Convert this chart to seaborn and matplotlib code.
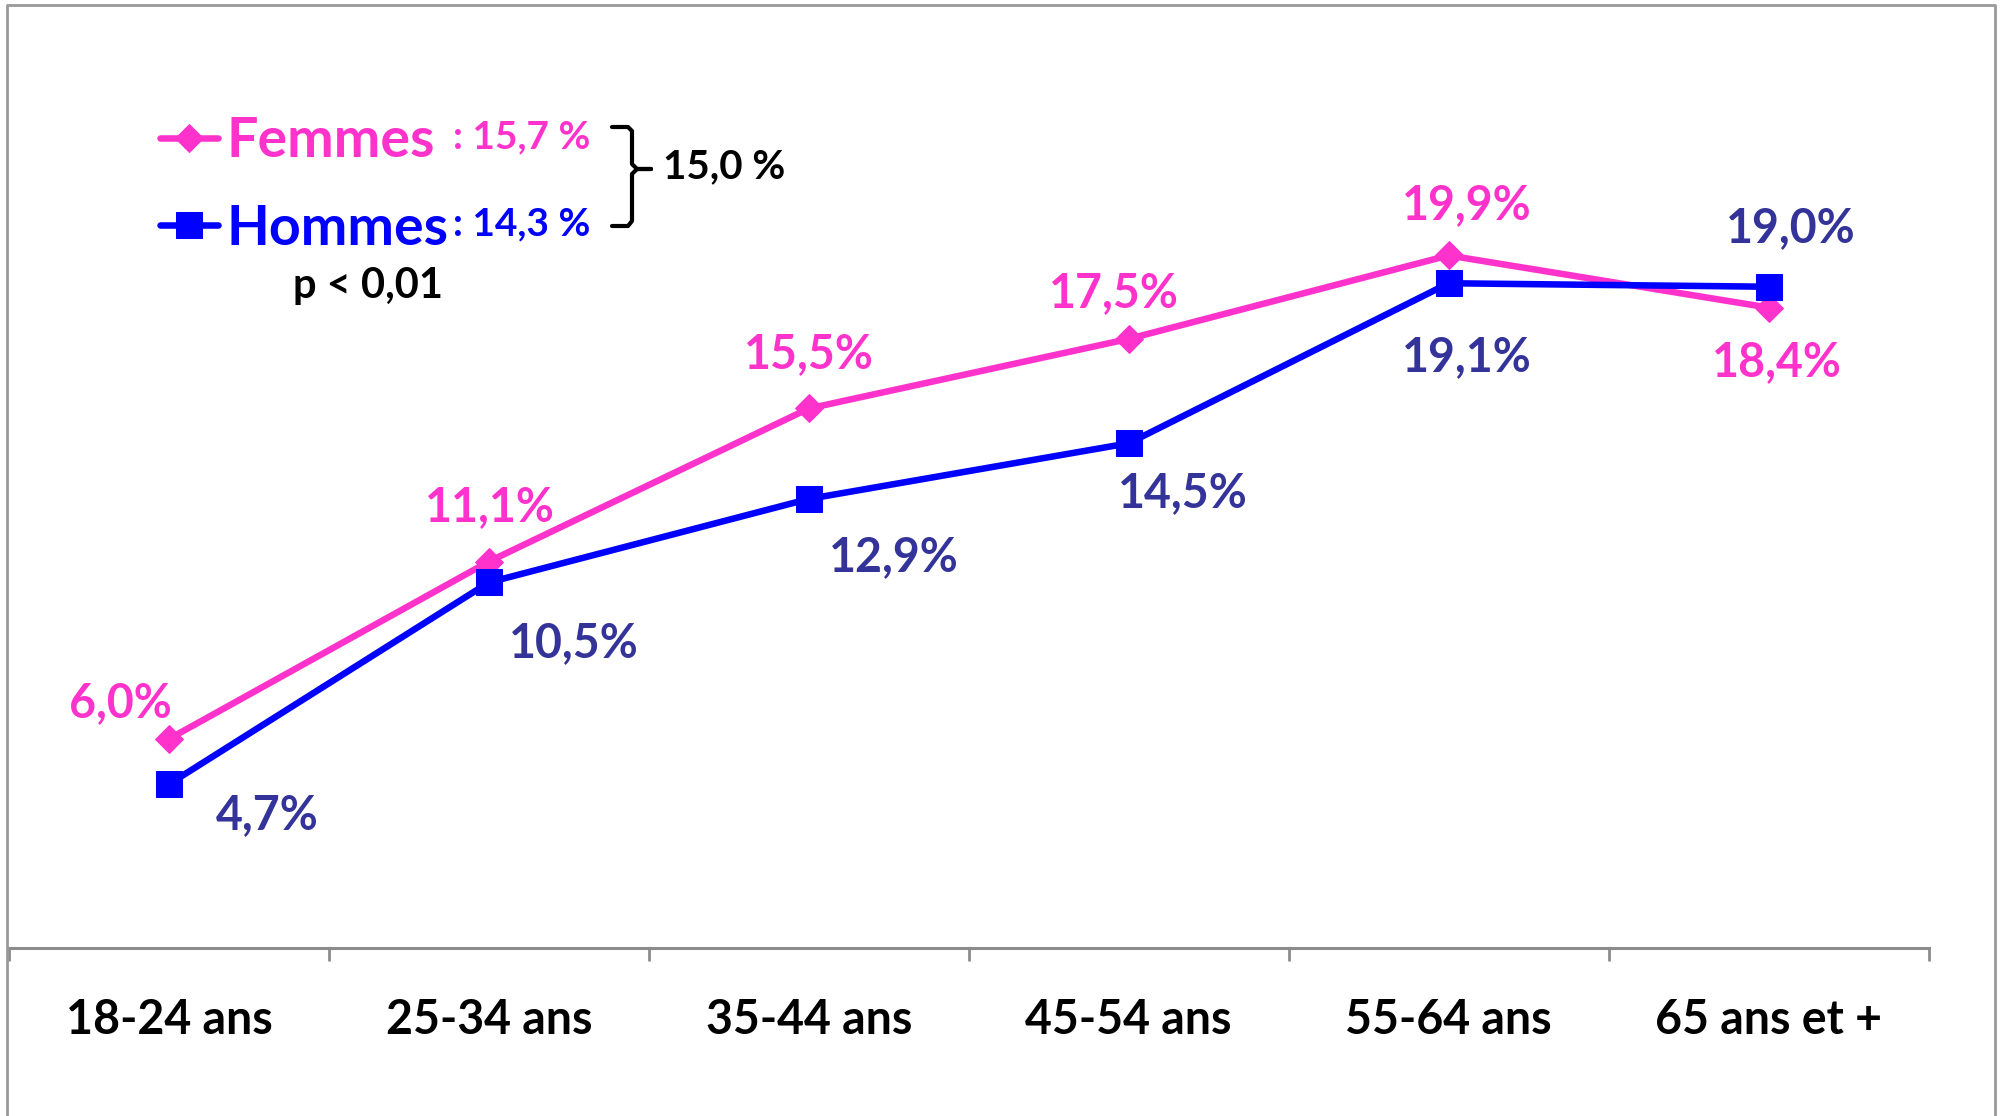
import pandas as pd
import matplotlib.pyplot as plt
import seaborn as sns
from matplotlib.lines import Line2D

# Données
age_groups = ['18-24 ans', '25-34 ans', '35-44 ans', '45-54 ans', '55-64 ans', '65 ans et +']
femmes = [6.0, 11.1, 15.5, 17.5, 19.9, 18.4]
hommes = [4.7, 10.5, 12.9, 14.5, 19.1, 19.0]
femmes_labels = ['6,0%', '11,1%', '15,5%', '17,5%', '19,9%', '18,4%']
hommes_labels = ['4,7%', '10,5%', '12,9%', '14,5%', '19,1%', '19,0%']

ROSE = '#FF33CC'
BLEU = '#0000FF'
BLEU_LABEL = '#333399'

sns.set_style('white')
plt.rcParams['font.family'] = ['Lato', 'DejaVu Sans']
plt.rcParams['font.weight'] = 'bold'

W, H = 2000, 1116
fig = plt.figure(figsize=(W / 100, H / 100), dpi=100)
ax = fig.add_axes([0.00446, 0.1508, 0.9598, 0.7793])

x = list(range(len(age_groups)))
df = pd.DataFrame({'x': x, 'Femmes': femmes, 'Hommes': hommes})

sns.lineplot(data=df, x='x', y='Femmes', ax=ax, color=ROSE, lw=4.7,
             marker='D', markersize=14, markeredgecolor=ROSE, label='Femmes')
sns.lineplot(data=df, x='x', y='Hommes', ax=ax, color=BLEU, lw=4.7,
             marker='s', markersize=19, markeredgecolor=BLEU, label='Hommes')

# étiquettes des valeurs
f_off = [(-35, 26), (1, 39), (0, 39), (-11, 33), (13, 36), (6, -39)]
h_off = [(71, -22), (61, -44), (61, -42), (39, -36), (13, -53), (16, 42)]
for i in x:
    ax.annotate(femmes_labels[i], (i, femmes[i]), xytext=f_off[i], textcoords='offset points',
                ha='center', va='center', color=ROSE, fontsize=33.5, fontweight='bold')
    ax.annotate(hommes_labels[i], (i, hommes[i]), xytext=h_off[i], textcoords='offset points',
                ha='center', va='center', color=BLEU_LABEL, fontsize=33.5, fontweight='bold')

ax.set_xlim(-0.5, len(age_groups) - 0.5)
ax.set_ylim(0, 25)
ax.set_xticks(x)
ax.set_xticklabels(age_groups, fontsize=33.5, fontweight='bold')
ax.set_xticks([i - 0.5 for i in range(len(age_groups) + 1)], minor=True)
ax.tick_params(axis='x', which='major', bottom=False, length=0, pad=36, colors='black')
ax.tick_params(axis='x', which='minor', bottom=True, length=9, width=2, color='#8c8c8c',
               direction='out')
ax.set_yticks([])
ax.set_xlabel('')
ax.set_ylabel('')
for s in ['top', 'right', 'left']:
    ax.spines[s].set_visible(False)
ax.spines['bottom'].set_color('#8c8c8c')
ax.spines['bottom'].set_linewidth(2.2)

# légende
leg = ax.legend(loc='upper left', bbox_to_anchor=(160 / W, 1 - 116 / H),
                bbox_transform=fig.transFigure, frameon=False,
                handlelength=1.05, handletextpad=0.15, labelspacing=0.68,
                borderpad=0, borderaxespad=0, labelcolor='linecolor',
                prop={'weight': 'bold', 'size': 40})


def fx(px):
    return px / W


def fy(py):
    return 1 - py / H


fig.text(fx(453), fy(137), ': 15,7 %', color=ROSE, fontsize=28, fontweight='bold', va='center')
fig.text(fx(453), fy(224), ': 14,3 %', color=BLEU, fontsize=28, fontweight='bold', va='center')
fig.text(fx(663), fy(167), '15,0 %', color='black', fontsize=29, fontweight='bold', va='center')
fig.text(fx(293), fy(286), 'p < 0,01', color='black', fontsize=30, fontweight='bold', va='center')

# accolade
bx = [612, 628, 632, 632, 637, 651, 637, 632, 632, 628, 612]
by = [127, 127, 131, 164, 169, 169, 169, 174, 221, 226, 226]
fig.add_artist(Line2D([fx(v) for v in bx], [fy(v) for v in by], color='black', lw=3,
                      solid_joinstyle='round', solid_capstyle='round'))

# cadre
fig.add_artist(Line2D([fx(7), fx(7), fx(1995), fx(1995)], [fy(H + 5), fy(5), fy(5), fy(H + 5)],
                      color='#999999', lw=2))

fig.savefig('out.png', dpi=100)
